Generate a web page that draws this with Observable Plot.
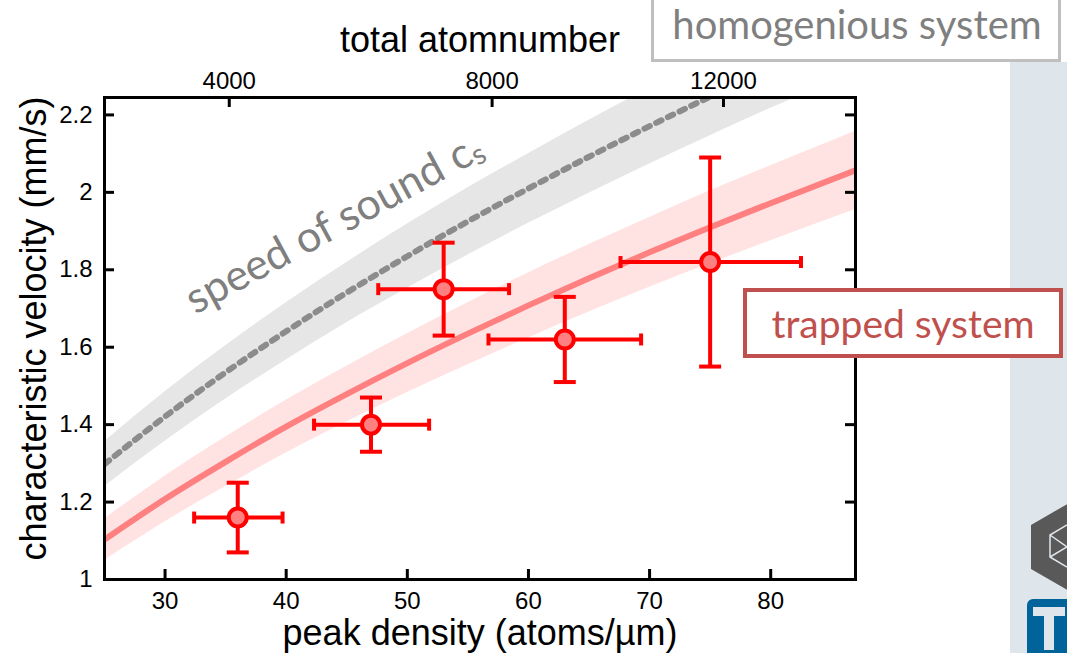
<!DOCTYPE html>
<html><head><meta charset="utf-8">
<script src="https://cdn.jsdelivr.net/npm/d3@7"></script>
<script src="https://cdn.jsdelivr.net/npm/@observablehq/plot@0.6"></script>
<style>
html,body{margin:0;padding:0;background:#fff;}
#wrap{position:relative;width:1067px;height:653px;overflow:hidden;}
#chart{position:absolute;left:0;top:0;}
#overlay{position:absolute;left:0;top:0;}
</style></head><body>
<div id="wrap"><div id="chart"></div>
<svg id="overlay" width="1067" height="653" xmlns="http://www.w3.org/2000/svg"></svg></div>
<script>
// ---- measured points (peak density in atoms/µm, velocity in mm/s)
const density   = [36, 47, 53, 63, 75];
const densityLo = [32.4, 42.3, 47.6, 56.7, 67.6];
const densityHi = [39.7, 51.8, 58.4, 69.3, 82.5];
const velocity   = [1.16, 1.40, 1.75, 1.62, 1.82];
const velocityLo = [1.07, 1.33, 1.63, 1.51, 1.55];
const velocityHi = [1.25, 1.47, 1.87, 1.73, 2.09];

// ---- curves
const curveDensity = [25, 30, 35, 40, 45, 50, 55, 60, 65, 70, 75, 80, 87];
const trappedMid = [1.103, 1.208, 1.304, 1.395, 1.479, 1.559, 1.635, 1.708, 1.778, 1.845, 1.910, 1.972, 2.057];
const trappedLo  = [1.049, 1.149, 1.240, 1.327, 1.407, 1.483, 1.555, 1.624, 1.691, 1.755, 1.816, 1.875, 1.956];
const trappedHi  = [1.157, 1.267, 1.368, 1.463, 1.551, 1.635, 1.715, 1.792, 1.865, 1.935, 2.004, 2.069, 2.158];
const soundMid = [1.298, 1.421, 1.535, 1.641, 1.741, 1.835, 1.925, 2.010, 2.092, 2.171, 2.247, 2.321, 2.420];
const soundLo  = [1.240, 1.357, 1.466, 1.567, 1.663, 1.752, 1.838, 1.920, 1.998, 2.073, 2.146, 2.217, 2.311];
const soundHi  = [1.356, 1.485, 1.604, 1.715, 1.819, 1.918, 2.012, 2.100, 2.186, 2.269, 2.348, 2.425, 2.529];

// ---- axes
const xTicks = [30, 40, 50, 60, 70, 80];
const yTicks = [1, 1.2, 1.4, 1.6, 1.8, 2, 2.2];
const topTickDensity = [35.3, 57.0, 76.1];
const topTickLabels = ["4000", "8000", "12000"];
const xTitle = "peak density (atoms/µm)";
const yTitle = "characteristic velocity (mm/s)";
const topTitle = "total atomnumber";
const soundLabel = {text: "speed of sound c", sub: "s", n: 32.5, v: 1.684};
const boxLabels = ["homogenious system", "trapped system"];

const W = 1067, H = 653;
const mL = 104, mR = 212, mT = 97, mB = 74;
const plotW = W - mL - mR, plotH = H - mT - mB;

const pts = density.map((n, i) => ({n, v: velocity[i], nlo: densityLo[i], nhi: densityHi[i], vlo: velocityLo[i], vhi: velocityHi[i]}));
const curve = curveDensity.map((n, i) => ({n, mid: trappedMid[i], lo: trappedLo[i], hi: trappedHi[i], smid: soundMid[i], slo: soundLo[i], shi: soundHi[i]}));

const hbar = {draw(ctx, size) { const r = Math.sqrt(size / Math.PI); ctx.moveTo(-r, 0); ctx.lineTo(r, 0); }};
const vbar = {draw(ctx, size) { const r = Math.sqrt(size / Math.PI); ctx.moveTo(0, -r); ctx.lineTo(0, r); }};

const axisFont = "'Liberation Sans', Arial, sans-serif";
const slideFont = "Lato, 'Open Sans', sans-serif";
const red = "#ff0000";

const plot = Plot.plot({
  width: W, height: H,
  marginLeft: mL, marginRight: mR, marginTop: mT, marginBottom: mB,
  style: {background: "transparent", fontFamily: axisFont, color: "black", overflow: "visible"},
  x: {domain: [25, 87]},
  y: {domain: [1, 2.245]},
  marks: [
    Plot.areaY(curve, {x: "n", y1: "slo", y2: "shi", fill: "#e6e6e6", curve: "monotone-x", clip: true}),
    Plot.areaY(curve, {x: "n", y1: "lo", y2: "hi", fill: "#ffe2e2", curve: "monotone-x", clip: true}),
    Plot.line(curve, {x: "n", y: "smid", stroke: "#8c8c8c", strokeWidth: 6, strokeDasharray: "6,7", curve: "monotone-x", clip: true}),
    Plot.line(curve, {x: "n", y: "mid", stroke: "#ff8080", strokeWidth: 6, curve: "monotone-x", clip: true}),
    Plot.text([soundLabel], {x: "n", y: "v", text: "text", rotate: -28.5, textAnchor: "start", lineAnchor: "bottom", fontSize: 43, fontFamily: slideFont, fill: "#7f7f7f"}),
    Plot.ruleY(pts, {y: "v", x1: "nlo", x2: "nhi", stroke: red, strokeWidth: 4}),
    Plot.ruleX(pts, {x: "n", y1: "vlo", y2: "vhi", stroke: red, strokeWidth: 4}),
    Plot.dot(pts, {x: "n", y: "vlo", symbol: hbar, r: 11, fill: "none", stroke: red, strokeWidth: 4}),
    Plot.dot(pts, {x: "n", y: "vhi", symbol: hbar, r: 11, fill: "none", stroke: red, strokeWidth: 4}),
    Plot.dot(pts, {x: "nlo", y: "v", symbol: vbar, r: 6, fill: "none", stroke: red, strokeWidth: 4}),
    Plot.dot(pts, {x: "nhi", y: "v", symbol: vbar, r: 6, fill: "none", stroke: red, strokeWidth: 4}),
    Plot.dot(pts, {x: "n", y: "v", r: 9, fill: "#ff8080", stroke: red, strokeWidth: 4}),
    // inward ticks
    Plot.tickX(xTicks, {x: d => d, insetTop: plotH - 10, stroke: "black", strokeWidth: 3}),
    Plot.tickX(topTickDensity, {x: d => d, insetBottom: plotH - 10, stroke: "black", strokeWidth: 3}),
    Plot.tickY(yTicks, {y: d => d, insetRight: plotW - 10, stroke: "black", strokeWidth: 3}),
    Plot.tickY(yTicks, {y: d => d, insetLeft: plotW - 10, stroke: "black", strokeWidth: 3}),
    Plot.frame({stroke: "black", strokeWidth: 3}),
    // tick labels
    Plot.axisX(xTicks, {anchor: "bottom", tickSize: 0, tickPadding: 12, fontSize: 24, label: null, tickFormat: d => String(d)}),
    Plot.axisX(topTickDensity, {anchor: "top", tickSize: 0, tickPadding: 9, fontSize: 24, label: null, tickFormat: d => topTickLabels[topTickDensity.indexOf(d)]}),
    Plot.axisY(yTicks, {anchor: "left", tickSize: 0, tickPadding: 12, fontSize: 24, label: null, tickFormat: d => String(d)}),
    // titles
    Plot.text([xTitle], {text: d => d, frameAnchor: "bottom", dy: 65, lineAnchor: "bottom", fontSize: 36}),
    Plot.text([topTitle], {text: d => d, frameAnchor: "top", dy: -46, lineAnchor: "bottom", fontSize: 36}),
    Plot.text([yTitle], {text: d => d, frameAnchor: "left", dx: -70, dy: -10, rotate: -90, textAnchor: "middle", lineAnchor: "middle", fontSize: 36})
  ]
});
document.getElementById("chart").appendChild(plot);

// subscript on "speed of sound c"
for (const t of plot.querySelectorAll("text")) {
  if (t.textContent === soundLabel.text) {
    const ts = document.createElementNS("http://www.w3.org/2000/svg", "tspan");
    ts.textContent = soundLabel.sub;
    ts.setAttribute("font-size", "29");
    ts.setAttribute("dy", "4");
    t.appendChild(ts);
  }
}

// slide decorations: legend boxes, side panel, logos
const ov = d3.select("#overlay");
ov.append("rect").attr("x", 1010).attr("y", 62).attr("width", 57).attr("height", 591).attr("fill", "#dfe6eb");
ov.append("rect").attr("x", 652.5).attr("y", -10).attr("width", 407).attr("height", 70.5)
  .attr("fill", "white").attr("stroke", "#bfbfbf").attr("stroke-width", 3);
ov.append("text").attr("x", 857).attr("y", 39).attr("text-anchor", "middle")
  .attr("font-family", slideFont).attr("font-size", 40).attr("fill", "#7f7f7f").text(boxLabels[0]);
ov.append("rect").attr("x", 745).attr("y", 290).attr("width", 316).attr("height", 66)
  .attr("fill", "white").attr("stroke", "#c0504d").attr("stroke-width", 4);
ov.append("text").attr("x", 903).attr("y", 338).attr("text-anchor", "middle")
  .attr("font-family", slideFont).attr("font-size", 39).attr("fill", "#c0504d").text(boxLabels[1]);
// hexagon logo
ov.append("polygon").attr("points", "1069,503 1107,525 1107,569 1069,591 1031,569 1031,525").attr("fill", "#595959");
ov.append("path").attr("d", "M1067,525 L1050,535 L1050,557 L1067,567 M1050,535 L1067,547 L1050,557")
  .attr("fill", "none").attr("stroke", "#dfe6eb").attr("stroke-width", 1.5);
// T logo
ov.append("rect").attr("x", 1027).attr("y", 599).attr("width", 60).attr("height", 60).attr("rx", 6).attr("fill", "#00649b");
ov.append("rect").attr("x", 1033).attr("y", 607).attr("width", 32).attr("height", 9).attr("fill", "#dfe6eb");
ov.append("rect").attr("x", 1044).attr("y", 616).attr("width", 10).attr("height", 34).attr("fill", "#dfe6eb");
</script>
</body></html>
